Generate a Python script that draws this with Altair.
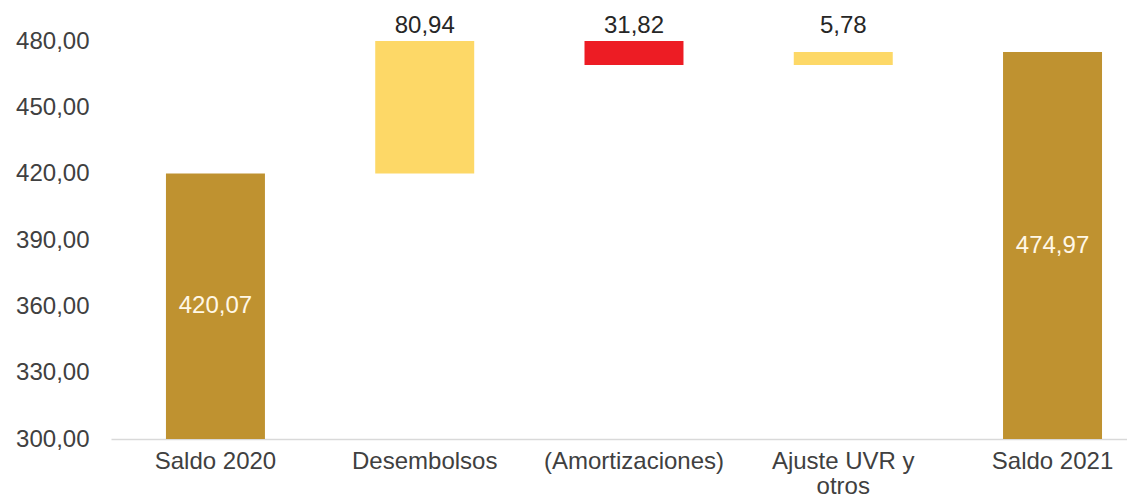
import altair as alt
import pandas as pd

categories = ["Saldo 2020", "Desembolsos", "(Amortizaciones)", "Ajuste UVR y otros", "Saldo 2021"]
amounts = [420.07, 80.94, -31.82, 5.78, 474.97]
kinds = ["total", "up", "down", "up", "total"]
y_ticks = [300, 330, 360, 390, 420, 450, 480]
y_min, y_max = 300, 480

colors = {"total": "#BF9230", "up": "#FDD867", "down": "#ED1C24"}

rows = []
running = 0.0
for cat, amt, kind in zip(categories, amounts, kinds):
    if kind == "total":
        start, end = y_min, amt
        running = amt
    else:
        start = running
        end = running + amt
        running = end
    label = f"{abs(amt):.2f}".replace(".", ",")
    rows.append({
        "cat": cat, "start": start, "end": end, "kind": kind,
        "label": label,
        "mid": (max(start, y_min) + min(end, y_max)) / 2,
        "top": y_max,
    })
df = pd.DataFrame(rows)

FONT = "Liberation Sans"

x = alt.X(
    "cat:N", sort=categories, title=None,
    scale=alt.Scale(paddingInner=0.527, paddingOuter=0.191, align=0.6875),
    axis=alt.Axis(
        labelAngle=0, labelFont=FONT, labelFontSize=24, labelColor="#404040",
        ticks=False, tickSize=0, labelPadding=10, domainColor="#D9D9D9", domainWidth=1.5,
        labelLineHeight=25, labelBaseline="top", labelLimit=400,
        labelExpr="datum.label == 'Ajuste UVR y otros' ? ['Ajuste UVR y', 'otros'] : datum.label",
        grid=False,
    ),
)

yscale = alt.Scale(domain=[y_min, y_max], nice=False, zero=False)

bars = alt.Chart(df).mark_bar(clip=True).encode(
    x=x,
    y=alt.Y("start:Q", scale=yscale, title=None,
            axis=alt.Axis(values=y_ticks, labelFont=FONT, labelFontSize=24, labelColor="#404040",
                          ticks=False, tickSize=0, labelPadding=22, domain=False, grid=False,
                          labelExpr="replace(format(datum.value, '.2f'), '.', ',')")),
    y2="end:Q",
    color=alt.Color("kind:N", scale=alt.Scale(domain=list(colors.keys()), range=list(colors.values())), legend=None),
)

inner = alt.Chart(df).transform_filter("datum.kind == 'total'").mark_text(
    font=FONT, fontSize=24, color="#FFF8E7", baseline="middle"
).encode(x=alt.X("cat:N", sort=categories), y=alt.Y("mid:Q", scale=yscale), text="label:N")

above = alt.Chart(df).transform_filter("datum.kind != 'total'").mark_text(
    font=FONT, fontSize=24, color="#262626", baseline="middle", dy=-15
).encode(x=alt.X("cat:N", sort=categories), y=alt.Y("top:Q", scale=yscale), text="label:N")

chart = alt.layer(bars, inner, above).properties(
    width=1016, height=398,
    autosize=alt.AutoSizeParams(type="none"),
    padding={"left": 103, "top": 33, "right": 0, "bottom": 60},
).configure_view(stroke=None)

chart.save("out.html", embed_options={"renderer": "svg", "actions": False})
